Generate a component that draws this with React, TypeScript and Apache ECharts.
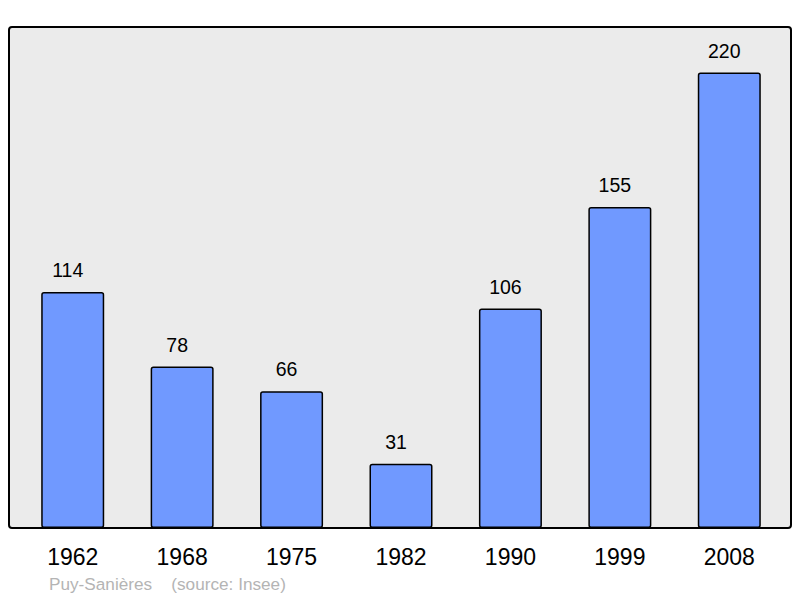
import React, { useEffect, useRef } from "react";
import * as echarts from "echarts";

const categories = ["1962", "1968", "1975", "1982", "1990", "1999", "2008"];
const population = [114, 78, 66, 31, 106, 155, 220];
const footerText = "Puy-Sanières    (source: Insee)";

export default function App() {
  const ref = useRef<HTMLDivElement>(null);
  useEffect(() => {
    const chart = echarts.init(ref.current!, null, { renderer: "svg" });
    chart.setOption({
      animation: false,
      graphic: [
        {
          type: "rect",
          z: -10,
          shape: { x: 9, y: 27, width: 782, height: 501, r: 3 },
          style: { fill: "#ebebeb", stroke: "#000", lineWidth: 2 },
        },
        {
          type: "text",
          left: 49,
          top: 575,
          style: {
            text: footerText,
            fill: "#b4b4b4",
            font: "17.2px 'Liberation Sans', Arial, sans-serif",
          },
        },
      ],
      grid: { left: 18, right: 16, top: 27, bottom: 70, containLabel: false },
      xAxis: {
        type: "category",
        data: categories,
        axisLine: { show: false },
        axisTick: { show: false },
        axisLabel: {
          color: "#000",
          fontSize: 23,
          fontFamily: "'Liberation Sans', Arial, sans-serif",
          margin: 17,
        },
      },
      yAxis: {
        type: "value",
        min: 0,
        max: 242,
        show: false,
        splitLine: { show: false },
      },
      series: [
        {
          type: "bar",
          data: population,
          barWidth: 63,
          itemStyle: {
            color: "#7099ff",
            borderColor: "#000",
            borderWidth: 1.5,
            borderRadius: 2,
          },
          label: {
            show: true,
            position: "top",
            distance: 12,
            offset: [-5, 0],
            color: "#000",
            fontSize: 19.5,
            fontFamily: "'Liberation Sans', Arial, sans-serif",
          },
        },
      ],
    });
    return () => chart.dispose();
  }, []);
  return <div ref={ref} style={{ width: 800, height: 598, position: "absolute", left: 0, top: 0 }} />;
}
